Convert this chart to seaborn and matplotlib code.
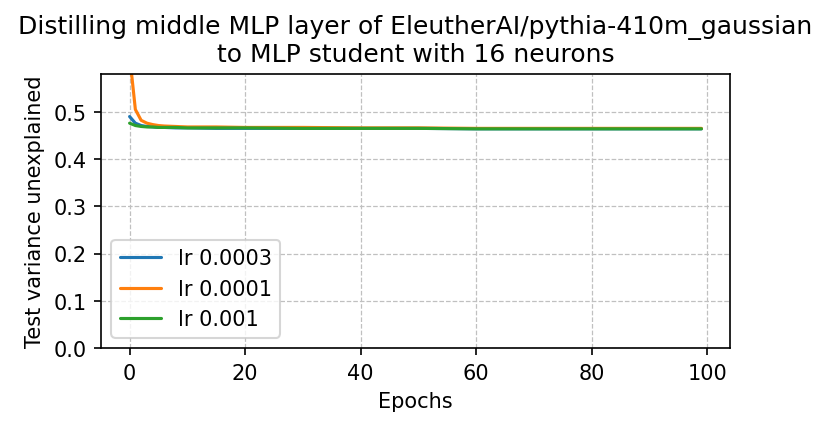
import matplotlib
matplotlib.use("Agg")
import matplotlib.pyplot as plt
import seaborn as sns
import pandas as pd

epochs = [0, 1, 2, 3, 4, 5, 6, 8, 10, 15, 20, 30, 40, 50, 60, 70, 80, 90, 99]

lr_0003 = [0.490, 0.476, 0.471, 0.469, 0.468, 0.467, 0.467, 0.466, 0.466, 0.465,
           0.465, 0.465, 0.465, 0.465, 0.464, 0.464, 0.464, 0.464, 0.464]
lr_0001 = [0.620, 0.505, 0.482, 0.476, 0.473, 0.471, 0.470, 0.469, 0.468, 0.468,
           0.467, 0.467, 0.466, 0.466, 0.465, 0.465, 0.465, 0.465, 0.465]
lr_001 = [0.476, 0.471, 0.469, 0.468, 0.468, 0.467, 0.467, 0.467, 0.466, 0.466,
          0.466, 0.465, 0.465, 0.465, 0.464, 0.464, 0.464, 0.464, 0.464]

labels = ["lr 0.0003", "lr 0.0001", "lr 0.001"]

df = pd.DataFrame({"epoch": epochs * 3,
                   "loss": lr_0003 + lr_0001 + lr_001,
                   "run": [labels[0]] * len(epochs) + [labels[1]] * len(epochs) + [labels[2]] * len(epochs)})

sns.set_style("ticks")
plt.rcParams["font.family"] = ["DejaVu Sans"]
plt.rcParams["text.color"] = "black"
plt.rcParams["axes.labelcolor"] = "black"
plt.rcParams["xtick.color"] = "black"
plt.rcParams["ytick.color"] = "black"

fig = plt.figure(figsize=(5.54, 2.853), dpi=150)
ax = fig.add_axes([101 / 831, 1 - 349 / 428, 629 / 831, 274 / 428])

sns.lineplot(data=df, x="epoch", y="loss", hue="run", palette=["#1f77b4", "#ff7f0e", "#2ca02c"],
             linewidth=1.5, ax=ax)

ax.set_ylim(0, 0.58)
ax.grid(True, linestyle="--", color="#c0c0c0", linewidth=0.6)
ax.set_xlabel("Epochs", fontsize=10)
ax.set_ylabel("Test variance unexplained", fontsize=10)
ax.set_title("Distilling middle MLP layer of EleutherAI/pythia-410m_gaussian\nto MLP student with 16 neurons",
             fontsize=12)
ax.tick_params(labelsize=10, colors="black")
for s in ax.spines.values():
    s.set_color("black")
ax.legend(loc="lower left", fontsize=10, title=None)

fig.savefig("out.png", dpi=150)
